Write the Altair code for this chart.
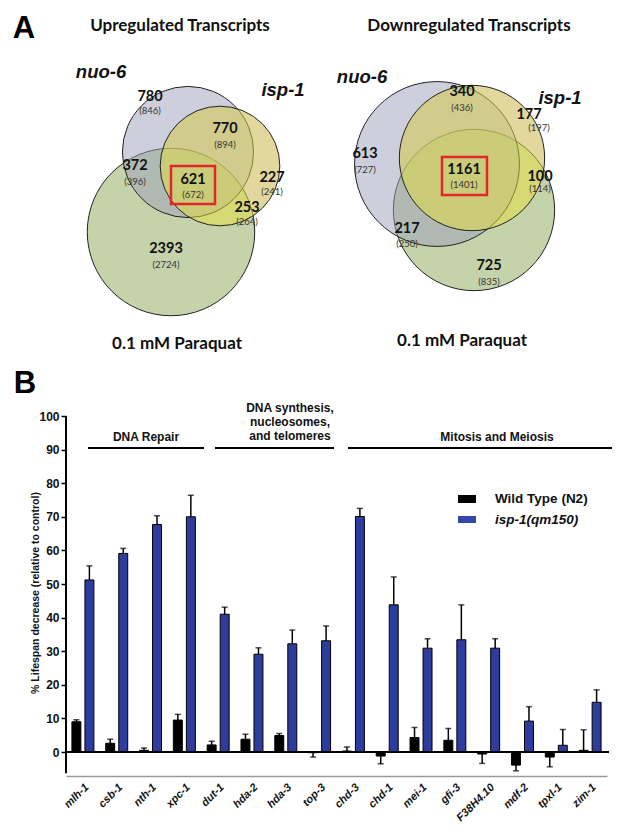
import altair as alt
import pandas as pd
import numpy as np

# ---------------- data ----------------
genes = ["mlh-1", "csb-1", "nth-1", "xpc-1", "dut-1", "hda-2", "hda-3", "top-3",
         "chd-3", "chd-1", "mei-1", "gfi-3", "F38H4.10", "mdf-2", "tpxl-1", "zim-1"]
strains = ["Wild Type (N2)", "isp-1(qm150)"]
wt_mean = [9.0, 2.6, 0.5, 9.5, 2.1, 3.8, 4.9, -0.2, 0.3, -1.2, 4.3, 3.5, -0.6, -3.9, -1.5, 0.5]
wt_sem = [0.6, 1.2, 0.7, 1.7, 1.1, 1.5, 0.6, 1.3, 1.2, 2.3, 3.0, 3.5, 2.8, 1.7, 2.9, 6.1]
isp_mean = [51.2, 59.1, 67.7, 70.0, 41.0, 29.1, 32.2, 33.1, 70.1, 43.8, 30.9, 33.4, 30.9, 9.2, 2.0, 14.8]
isp_sem = [4.2, 1.5, 2.6, 6.4, 2.1, 1.9, 4.1, 4.4, 2.4, 8.3, 2.8, 10.4, 2.8, 4.3, 4.7, 3.7]

groups = ["DNA Repair", "DNA synthesis,\nnucleosomes,\nand telomeres", "Mitosis and Meiosis"]

up_counts = ["780", "770", "372", "621", "227", "253", "2393"]
up_totals = ["(846)", "(894)", "(396)", "(672)", "(241)", "(264)", "(2724)"]
down_counts = ["340", "177", "613", "1161", "100", "217", "725"]
down_totals = ["(436)", "(197)", "(727)", "(1401)", "(114)", "(250)", "(835)"]
set_names = ["nuo-6", "isp-1", "0.1 mM Paraquat"]
panel_titles = ["Upregulated Transcripts", "Downregulated Transcripts"]

# ---------------- layout (page pixels) ----------------
X0, X1, Y0, Y1 = 66, 607, 8, 776
W, H = X1 - X0, Y1 - Y0
k = (752 - 416) / 100.0
Y_LO = -(Y1 - 752) / k
Y_HI = 100 + (416 - Y0) / k

xs = alt.Scale(domain=[X0, X1], nice=False, zero=False)
ys = alt.Scale(domain=[Y0, Y1], nice=False, zero=False, reverse=True)


def PX(f):
    return alt.X(f, type="quantitative", scale=xs, axis=None)


def PY(f):
    return alt.Y(f, type="quantitative", scale=ys, axis=None)


layers = []

# Venn circles: isp-1 base tint, paraquat, nuo-6, isp-1 (per panel)
left_c = {"para": (171, 232, 94.5), "nuo": (188, 152, 74), "isp": (220, 166, 67.5)}
right_c = {"para": (474, 210, 91), "nuo": (437, 164, 93), "isp": (472, 158, 82)}
order_keys = ["isp", "para", "nuo", "isp"]
fills = ["#ded2ff", "#c5d3ab", "#9ba1b9", "#e6de3c"]
fops = [1.0, 1.0, 0.5, 0.5]
sops = [0.0, 1.0, 1.0, 1.0]
rows = []
o = 0
for circles in (left_c, right_c):
    for key, f, fo, so in zip(order_keys, fills, fops, sops):
        cx, cy, r = circles[key]
        rows.append({"cx": cx, "cy": cy, "size": np.pi * r * r, "fill": f, "fo": fo, "so": so, "ord": o})
        o += 1
circ = pd.DataFrame(rows)
layers.append(alt.Chart(circ).mark_point(shape="circle", filled=True, opacity=1, stroke="#222",
                                         strokeWidth=1).encode(
    x=PX("cx"), y=PY("cy"), size=alt.Size("size:Q", scale=None),
    fill=alt.Fill("fill:N", scale=None), fillOpacity=alt.FillOpacity("fo:Q", scale=None),
    strokeOpacity=alt.StrokeOpacity("so:Q", scale=None),
    order=alt.Order("ord:Q")))

# red boxes
box = pd.DataFrame({"x": [171, 442], "x2": [215, 487], "y": [166, 157], "y2": [204, 195]})
layers.append(alt.Chart(box).mark_rect(fillOpacity=0, stroke="#e3262b", strokeWidth=2.5).encode(
    x=PX("x"), x2="x2", y=PY("y"), y2="y2"))

# venn count labels
cnt = pd.DataFrame({
    "t": up_counts + down_counts,
    "x": [150, 225, 135, 193, 272, 247, 166, 462, 529, 365, 464, 540, 407, 489],
    "y": [97, 129, 166, 180, 178, 208, 249, 92, 115, 154, 170, 177, 229, 266],
})
layers.append(alt.Chart(cnt).mark_text(font="Lato", fontWeight="bold", fontSize=14.5, color="#111").encode(
    x=PX("x"), y=PY("y"), text="t:N"))
tot = pd.DataFrame({
    "t": up_totals + down_totals,
    "x": [150, 225, 135, 193, 272, 247, 166, 462, 539, 365, 464, 540, 407, 489],
    "y": [111, 145, 182, 195, 192, 222, 265, 108, 128, 170, 185, 189, 244, 282],
})
layers.append(alt.Chart(tot).mark_text(font="Lato", fontSize=9.5, color="#333").encode(
    x=PX("x"), y=PY("y"), text="t:N"))

# set names (italic)
sn = pd.DataFrame({"t": [set_names[0], set_names[1], set_names[0], set_names[1]],
                   "x": [101, 283, 362, 560], "y": [72, 90, 77, 98]})
layers.append(alt.Chart(sn).mark_text(font="Liberation Sans", fontWeight="bold", fontStyle="italic",
                                      fontSize=18.5, color="#111").encode(x=PX("x"), y=PY("y"), text="t:N"))

# titles and paraquat labels
tt = pd.DataFrame({"t": panel_titles + [set_names[2], set_names[2]],
                   "x": [180, 469, 177, 462], "y": [26, 26, 344, 341]})
layers.append(alt.Chart(tt).mark_text(font="Lato", fontWeight="bold", fontSize=17, color="#111").encode(
    x=PX("x"), y=PY("y"), text="t:N"))

# panel letters
pl = pd.DataFrame({"t": ["A", "B"], "x": [24, 25], "y": [29, 384]})
layers.append(alt.Chart(pl).mark_text(font="Liberation Sans", fontWeight="bold", fontSize=31, color="black").encode(
    x=PX("x"), y=PY("y"), text="t:N"))

# group annotation lines and labels
gl = pd.DataFrame({"x": [88, 215, 348], "x2": [204, 334, 612], "y": [448, 448, 448]})
layers.append(alt.Chart(gl).mark_rule(color="black", strokeWidth=2).encode(
    x=PX("x"), x2="x2", y=PY("y")))
gt = pd.DataFrame({"t": [g.split("\n") for g in groups], "x": [146, 290, 497], "y": [437, 408, 437]})
layers.append(alt.Chart(gt).mark_text(font="Liberation Sans", fontWeight="bold", fontSize=12, color="#111",
                                      baseline="middle", lineHeight=14).encode(
    x=PX("x"), y=PY("y"), text="t"))

# y axis title
yt = pd.DataFrame({"t": ["% Lifespan decrease  (relative to control)"], "x": [36], "y": [593]})
layers.append(alt.Chart(yt).mark_text(font="Liberation Sans", fontWeight="bold", fontSize=10.5, angle=270,
                                      color="#111").encode(x=PX("x"), y=PY("y"), text="t:N"))

# legend
lg = pd.DataFrame({"s": strains, "x": [458, 458], "x2": [476, 476], "y": [495, 516], "y2": [503, 523],
                   "c": ["black", "#3448a8"]})
layers.append(alt.Chart(lg).mark_rect().encode(x=PX("x"), x2="x2", y=PY("y"), y2="y2",
                                               color=alt.Color("c:N", scale=None)))
lt = pd.DataFrame({"s": strains, "x": [495, 495], "y": [499, 520]})
layers.append(alt.Chart(lt.iloc[[0]]).mark_text(font="Liberation Sans", fontWeight="bold", fontSize=13.5,
                                                align="left", color="#111").encode(
    x=PX("x"), y=PY("y"), text="s:N"))
layers.append(alt.Chart(lt.iloc[[1]]).mark_text(font="Liberation Sans", fontWeight="bold", fontStyle="italic",
                                                fontSize=13.5, align="left", color="#111").encode(
    x=PX("x"), y=PY("y"), text="s:N"))

# ---------------- bar chart ----------------
rows = []
for i, g in enumerate(genes):
    for s, m, e in ((strains[0], wt_mean[i], wt_sem[i]), (strains[1], isp_mean[i], isp_sem[i])):
        rows.append({"gene": g, "strain": s, "mean": m, "end": m + e if m >= 0 else m - e})
df = pd.DataFrame(rows)

gx = alt.Scale(domain=genes, paddingInner=0.2, paddingOuter=0.1)
gxo = alt.Scale(domain=strains, paddingInner=0.31, paddingOuter=0.195)
gy = alt.Scale(domain=[Y_LO, Y_HI], nice=False, zero=False)

x_axis = alt.Axis(title=None, labelAngle=-45, labelAlign="right", labelBaseline="top",
                  labelFont="Liberation Sans", labelFontStyle="italic", labelFontWeight="bold",
                  labelFontSize=11, labelColor="#111", ticks=False, domain=True, domainColor="#9a9a9a",
                  domainWidth=1.5, labelPadding=5, labelOverlap=False, grid=False)
y_axis = alt.Axis(title=None, values=list(range(0, 101, 10)), domain=False, ticks=True, tickColor="black",
                  tickWidth=1.5, tickSize=5, labelFont="Liberation Sans", labelFontWeight="bold",
                  labelFontSize=12, labelColor="#111", labelPadding=2, grid=False)

bars = alt.Chart(df).mark_bar(stroke="black", strokeWidth=1).encode(
    x=alt.X("gene:N", scale=gx, sort=genes, axis=x_axis),
    xOffset=alt.XOffset("strain:N", scale=gxo, sort=strains),
    y=alt.Y("mean:Q", scale=gy, axis=y_axis),
    y2=alt.datum(0),
    color=alt.Color("strain:N", scale=alt.Scale(domain=strains, range=["black", "#2e3c9d"]), legend=None),
)
err = alt.Chart(df).mark_rule(color="black", strokeWidth=1.5).encode(
    x=alt.X("gene:N", scale=gx, sort=genes, axis=None),
    xOffset=alt.XOffset("strain:N", scale=gxo, sort=strains),
    y=alt.Y("mean:Q", scale=gy, axis=None),
    y2="end:Q",
)
caps = alt.Chart(df).mark_tick(color="black", thickness=1.5, size=6, orient="horizontal").encode(
    x=alt.X("gene:N", scale=gx, sort=genes, axis=None),
    xOffset=alt.XOffset("strain:N", scale=gxo, sort=strains),
    y=alt.Y("end:Q", scale=gy, axis=None),
)
zero = alt.Chart(pd.DataFrame({"z": [0]})).mark_rule(color="black", strokeWidth=2).encode(
    y=alt.Y("z:Q", scale=gy, axis=None), x=alt.value(0), x2=alt.value(W + 2))
yline = alt.Chart(pd.DataFrame({"lo": [-6.3], "hi": [100]})).mark_rule(color="black", strokeWidth=2).encode(
    x=alt.value(0), y=alt.Y("lo:Q", scale=gy, axis=None), y2="hi:Q")

layers = layers + [bars, err, caps, zero, yline]

chart = alt.layer(*layers).resolve_scale(x="independent", y="independent").properties(
    width=W, height=H,
    padding={"left": 58, "top": 0, "right": 8, "bottom": 47},
    autosize=alt.AutoSizeParams(type="none"),
).configure_view(stroke=None)

chart.save("out.html", embed_options={"renderer": "svg", "actions": False})
